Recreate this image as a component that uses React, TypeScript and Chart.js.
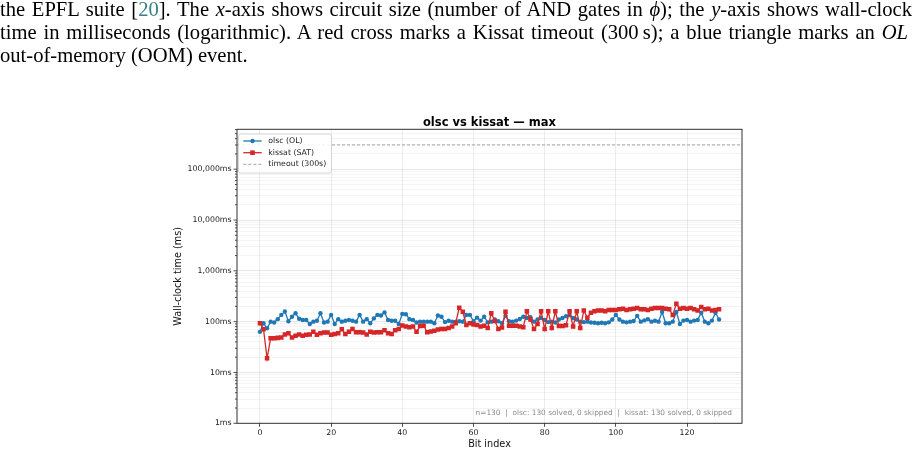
import React, { useEffect, useRef } from 'react';
import { Chart, registerables } from 'chart.js';

Chart.register(...registerables);

// ---- data (wall-clock time in ms, per bit index 0..129) ----
const olscMs = [
  63, 93, 74, 100, 96, 112, 136, 158, 102, 125,
  146, 114, 108, 108, 90, 100, 104, 146, 96, 100,
  136, 90, 112, 100, 104, 108, 104, 100, 136, 100,
  112, 93, 116, 136, 132, 152, 108, 104, 104, 90,
  142, 140, 112, 108, 96, 100, 100, 100, 100, 93,
  132, 125, 98, 104, 100, 100, 102, 100, 136, 136,
  102, 120, 105, 125, 97, 100, 110, 102, 93, 130,
  102, 100, 105, 113, 125, 118, 122, 100, 110, 118,
  108, 98, 100, 96, 110, 118, 128, 135, 118, 110,
  100, 98, 100, 96, 95, 93, 95, 93, 97, 110,
  136, 110, 100, 97, 100, 103, 130, 100, 106, 112,
  100, 104, 100, 155, 93, 93, 100, 155, 90, 105,
  108, 100, 105, 108, 150, 100, 93, 105, 150, 110,
];

const kissatMs = [
  93, 71, 19, 47, 47, 48, 49, 56, 59, 49,
  53, 56, 53, 55, 56, 63, 55, 59, 61, 61,
  55, 57, 59, 71, 57, 63, 72, 62, 62, 61,
  56, 63, 61, 62, 62, 68, 59, 57, 68, 72,
  84, 80, 78, 80, 63, 82, 83, 62, 64, 66,
  70, 72, 72, 75, 80, 93, 188, 157, 86, 93,
  88, 86, 80, 83, 75, 146, 103, 72, 77, 157,
  83, 83, 83, 80, 78, 160, 110, 72, 90, 160,
  72, 160, 75, 160, 82, 82, 85, 160, 80, 160,
  75, 165, 120, 150, 160, 165, 165, 160, 170, 170,
  170, 175, 180, 170, 175, 180, 185, 175, 175, 170,
  180, 185, 185, 185, 180, 175, 135, 225, 180, 185,
  180, 185, 175, 165, 195, 175, 180, 165, 170, 175,
];

const TIMEOUT_MS = 300000;
const xTickValues = [0, 20, 40, 60, 80, 100, 120];
const yDecades = [1, 10, 100, 1000, 10000, 100000];
const X_MIN = -6.45;
const X_MAX = 135.45;
const Y_MIN = 1;
const Y_MAX = 610000;

const chartTitle = 'olsc vs kissat — max';
const xAxisTitle = 'Bit index';
const yAxisTitle = 'Wall-clock time (ms)';
const seriesNames = ['olsc (OL)', 'kissat (SAT)', 'timeout (300s)'];
const footnote = 'n=130  |  olsc: 130 solved, 0 skipped  |  kissat: 130 solved, 0 skipped';

const BLUE = '#1f77b4';
const RED = '#d62728';
const FONT = '"DejaVu Sans", sans-serif';

const yTickValues: number[] = [];
yDecades.forEach((d) => {
  for (let m = 1; m <= 9; m++) {
    if (d * m <= Y_MAX) yTickValues.push(d * m);
  }
});

const isDecade = (v: number) => Math.abs(Math.log10(v) - Math.round(Math.log10(v))) < 1e-9;

const decorPlugin = {
  id: 'decor',
  afterDatasetsDraw(chart: any) {
    const { ctx, chartArea: ca } = chart;
    const yScale = chart.scales.y;
    ctx.save();

    // y tick marks (major/minor)
    ctx.strokeStyle = '#222';
    ctx.lineWidth = 0.8;
    yTickValues.forEach((v) => {
      const py = yScale.getPixelForValue(v);
      const len = isDecade(v) ? 3.5 : 2;
      ctx.beginPath();
      ctx.moveTo(ca.left, py);
      ctx.lineTo(ca.left - len, py);
      ctx.stroke();
    });

    // frame
    ctx.strokeStyle = '#333';
    ctx.lineWidth = 1;
    ctx.strokeRect(ca.left, ca.top, ca.right - ca.left, ca.bottom - ca.top);

    // legend
    const bx = ca.left + 1.5;
    const by = ca.top + 4.7;
    const bw = 93;
    const bh = 39;
    ctx.fillStyle = 'rgba(255,255,255,0.85)';
    ctx.strokeStyle = '#cccccc';
    ctx.lineWidth = 0.8;
    ctx.beginPath();
    (ctx as any).roundRect(bx, by, bw, bh, 2);
    ctx.fill();
    ctx.stroke();
    const rows = [by + 7, by + 18.7, by + 30.3];
    const lx0 = bx + 4.8;
    const lx1 = bx + 23.2;
    const mx = (lx0 + lx1) / 2;
    // olsc
    ctx.strokeStyle = BLUE;
    ctx.lineWidth = 1.3;
    ctx.beginPath();
    ctx.moveTo(lx0, rows[0]);
    ctx.lineTo(lx1, rows[0]);
    ctx.stroke();
    ctx.fillStyle = BLUE;
    ctx.beginPath();
    ctx.arc(mx, rows[0], 2.2, 0, Math.PI * 2);
    ctx.fill();
    // kissat
    ctx.strokeStyle = RED;
    ctx.beginPath();
    ctx.moveTo(lx0, rows[1]);
    ctx.lineTo(lx1, rows[1]);
    ctx.stroke();
    ctx.fillStyle = RED;
    ctx.fillRect(mx - 2.3, rows[1] - 2.3, 4.6, 4.6);
    // timeout
    ctx.strokeStyle = '#999999';
    ctx.lineWidth = 0.9;
    ctx.setLineDash([3, 2]);
    ctx.beginPath();
    ctx.moveTo(lx0, rows[2]);
    ctx.lineTo(lx1, rows[2]);
    ctx.stroke();
    ctx.setLineDash([]);
    ctx.fillStyle = '#222';
    ctx.font = `7.8px ${FONT}`;
    ctx.textAlign = 'left';
    ctx.textBaseline = 'middle';
    seriesNames.forEach((s, i) => ctx.fillText(s, bx + 29.8, rows[i]));

    // footnote
    ctx.fillStyle = '#8a8a8a';
    ctx.font = `7.4px ${FONT}`;
    ctx.textAlign = 'right';
    ctx.textBaseline = 'alphabetic';
    ctx.fillText(footnote, ca.right - 10, ca.bottom - 8.5);

    // title
    ctx.fillStyle = '#000';
    ctx.font = `bold 11.5px ${FONT}`;
    ctx.textAlign = 'center';
    ctx.fillText(chartTitle, (ca.left + ca.right) / 2, ca.top - 3.8);

    // x title
    ctx.font = `9.7px ${FONT}`;
    ctx.fillStyle = '#111';
    ctx.fillText(xAxisTitle, (ca.left + ca.right) / 2, ca.bottom + 24);

    // y title
    ctx.save();
    ctx.translate(ca.left - 56, (ca.top + ca.bottom) / 2);
    ctx.rotate(-Math.PI / 2);
    ctx.textAlign = 'center';
    ctx.textBaseline = 'alphabetic';
    ctx.fillText(yAxisTitle, 0, 0);
    ctx.restore();

    ctx.restore();
  },
};

function ChartView() {
  const ref = useRef<HTMLCanvasElement | null>(null);
  useEffect(() => {
    const canvas = ref.current;
    if (!canvas) return;
    const chart = new Chart(canvas, {
      type: 'line',
      data: {
        datasets: [
          {
            label: seriesNames[1],
            data: kissatMs.map((v, i) => ({ x: i, y: v })),
            borderColor: RED,
            backgroundColor: RED,
            borderWidth: 1.3,
            pointStyle: 'rect',
            pointRadius: 3.2,
            pointBorderWidth: 0,
            tension: 0,
            order: 0,
          },
          {
            label: seriesNames[0],
            data: olscMs.map((v, i) => ({ x: i, y: v })),
            borderColor: BLUE,
            backgroundColor: BLUE,
            borderWidth: 1.3,
            pointStyle: 'circle',
            pointRadius: 2.2,
            pointBorderWidth: 0,
            tension: 0,
            order: 1,
          },
          {
            label: seriesNames[2],
            data: [
              { x: X_MIN, y: TIMEOUT_MS },
              { x: X_MAX, y: TIMEOUT_MS },
            ],
            borderColor: '#999999',
            borderWidth: 0.9,
            borderDash: [3, 2],
            pointRadius: 0,
            order: 2,
          },
        ],
      } as any,
      options: {
        responsive: false,
        animation: false,
        devicePixelRatio: 1,
        layout: { padding: { left: 177, right: 174, top: 129.3, bottom: 10.7 } },
        plugins: {
          legend: { display: false },
          tooltip: { enabled: false },
          title: { display: false },
        },
        scales: {
          x: {
            type: 'linear',
            min: X_MIN,
            max: X_MAX,
            afterBuildTicks: (s: any) => {
              s.ticks = xTickValues.map((v) => ({ value: v }));
            },
            afterFit: (s: any) => {
              s.height = 20;
            },
            ticks: {
              autoSkip: false,
              maxRotation: 0,
              padding: 1.5,
              color: '#222',
              font: { family: FONT, size: 7.8 },
              callback: (v: any) => String(v),
            },
            grid: {
              color: 'rgba(0,0,0,0.09)',
              lineWidth: 0.8,
              drawTicks: true,
              tickLength: 3.5,
              tickColor: '#222',
            },
            border: { display: false },
          },
          y: {
            type: 'logarithmic',
            min: Y_MIN,
            max: Y_MAX,
            afterBuildTicks: (s: any) => {
              s.ticks = yTickValues.map((v) => ({ value: v, major: isDecade(v) }));
            },
            afterFit: (s: any) => {
              s.width = 60;
            },
            ticks: {
              autoSkip: false,
              padding: 5.5,
              color: '#222',
              font: { family: FONT, size: 7.8 },
              callback: (v: any) => (isDecade(Number(v)) ? Number(v).toLocaleString('en-US') + 'ms' : ''),
            },
            grid: {
              color: (c: any) => (c.tick && isDecade(c.tick.value) ? 'rgba(0,0,0,0.12)' : 'rgba(0,0,0,0.06)'),
              lineWidth: 0.8,
              drawTicks: false,
            },
            border: { display: false },
          },
        },
      } as any,
      plugins: [decorPlugin],
    });
    return () => chart.destroy();
  }, []);
  return (
    <canvas
      ref={ref}
      width={916}
      height={454}
      style={{ position: 'absolute', left: 0, top: 0, width: 916, height: 454 }}
    />
  );
}

const lineBase: React.CSSProperties = {
  position: 'absolute',
  left: 0,
  width: 912,
  whiteSpace: 'nowrap',
  fontFamily: '"Liberation Serif", serif',
  fontSize: 20.6,
  lineHeight: '22.7px',
  color: '#000',
};

const justified: React.CSSProperties = { textAlign: 'justify', textAlignLast: 'justify' as any };

export default function App() {
  return (
    <div
      style={{
        position: 'absolute',
        left: 0,
        top: 0,
        width: 916,
        height: 454,
        overflow: 'hidden',
        background: '#fff',
      }}
    >
      <ChartView />
      <div style={{ ...lineBase, ...justified, top: -1.6 }}>
        the EPFL suite [<span style={{ color: '#3b7f86' }}>20</span>]. The <i>x</i>-axis shows circuit size (number of
        AND gates in <i>ϕ</i>); the <i>y</i>-axis shows wall-clock
      </div>
      <div style={{ ...lineBase, ...justified, top: 21.2, width: 908 }}>
        time in milliseconds (logarithmic). A red cross marks a Kissat timeout (300{'\u2009'}s); a blue triangle marks
        an <i>OL</i>
      </div>
      <div style={{ ...lineBase, top: 43.9 }}>out-of-memory (OOM) event.</div>
    </div>
  );
}
